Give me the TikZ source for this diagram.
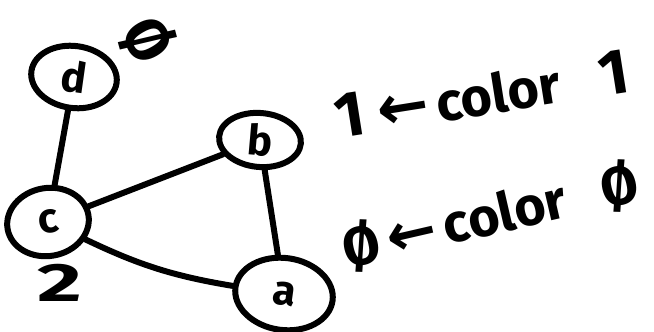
\documentclass[tikz,border=0pt]{standalone}
\usepackage{fontspec}
\setmainfont{Fira Sans}
\newfontfamily\djf{DejaVu Sans}
\usetikzlibrary{shapes.geometric}
\begin{document}
\begin{tikzpicture}[x=1pt,y=-1pt,line width=6pt,line cap=round,
  vtx/.style={draw,ellipse,inner sep=0pt,font=\fontsize{42}{42}\selectfont\bfseries},
  hand/.style={inner sep=0pt,font=\fontsize{54}{54}\selectfont\bfseries},
  arr/.style={}]
\useasboundingbox (0,0) rectangle (654,332);
\node[vtx,minimum width=86pt,minimum height=62pt,rotate=-8] (d) at (74,77) {d};
\node[vtx,minimum width=82pt,minimum height=68pt,rotate=10] (c) at (48,222) {c};
\node[vtx,minimum width=82pt,minimum height=54pt,rotate=-5] (b) at (260,140) {b};
\node[vtx,minimum width=98pt,minimum height=72pt,rotate=-8] (a) at (284,294) {a};
\draw (d) -- (c);
\draw (c) -- (b);
\draw (c) to[bend right=8] (a);
\draw (b) -- (a);
\node[hand,font=\fontsize{60}{60}\selectfont\bfseries,rotate=-60] (zd) at (148,40) {Ø};
\node[hand,font=\fontsize{54}{54}\selectfont\bfseries,xscale=1.6,transform shape] (two) at (60,283) {2};
\node[hand,rotate=9] (lab1) at (482,94) {{\fontsize{64}{64}\selectfont 1}\hspace{12pt}{\djf\bfseries\fontsize{62}{62}\selectfont ←}\hspace{8pt}color\hspace{40pt}{\fontsize{64}{64}\selectfont 1}};
\node[hand,rotate=13] (lab0) at (490,216) {Ø\hspace{8pt}{\djf\bfseries\fontsize{60}{60}\selectfont ←}\hspace{8pt}color\hspace{36pt}Ø};
\end{tikzpicture}
\end{document}
